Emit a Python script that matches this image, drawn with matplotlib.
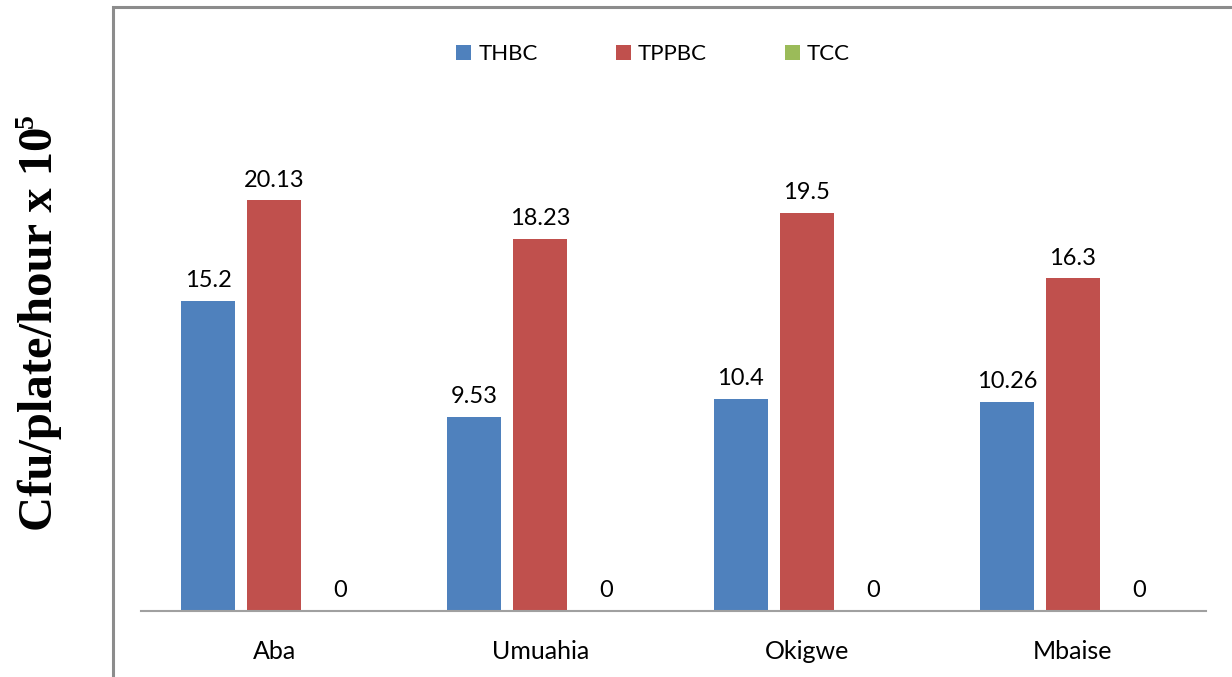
import matplotlib
matplotlib.use("Agg")
import matplotlib.pyplot as plt
import numpy as np
from matplotlib.patches import Rectangle, Patch

locations = ["Aba", "Umuahia", "Okigwe", "Mbaise"]
series_names = ["THBC", "TPPBC", "TCC"]
thbc = [15.2, 9.53, 10.4, 10.26]
tppbc = [20.13, 18.23, 19.5, 16.3]
tcc = [0, 0, 0, 0]
colors = ["#4F81BD", "#C0504D", "#9BBB59"]

W, H = 1232, 677
fig = plt.figure(figsize=(W / 100, H / 100), dpi=100)

ax = fig.add_axes([141 / W, 66 / H, (1206 - 141) / W, (611 - 101) / H])

x = np.arange(len(locations))
step = 0.248
width = 0.203
values = [thbc, tppbc, tcc]

for i, (name, vals, col) in enumerate(zip(series_names, values, colors)):
    pos = x + (i - 1) * step
    bars = ax.bar(pos, vals, width=width, color=col, label=name, zorder=2)
    for b, v in zip(bars, vals):
        ax.annotate(f"{v:g}", (b.get_x() + b.get_width() / 2, v),
                    xytext=(0, 7), textcoords="offset points",
                    ha="center", va="bottom", family="Lato", fontsize=17,
                    color="black")

ax.set_xlim(-0.5, len(locations) - 0.5)
ax.set_ylim(0, 25)
ax.set_xticks(x)
ax.set_xticklabels(locations, family="Lato", fontsize=18)
ax.tick_params(axis="x", length=0, pad=21)
ax.set_yticks([])
for s in ["top", "right", "left"]:
    ax.spines[s].set_visible(False)
ax.spines["bottom"].set_color("#A0A0A0")
ax.spines["bottom"].set_linewidth(1.5)

# outer chart border (runs off the right and bottom edges)
fig.patches.append(Rectangle((113 / W, -0.05), 1.2, (H - 6.5) / H + 0.05,
                             transform=fig.transFigure, fill=False,
                             edgecolor="#8C8C8C", linewidth=2.2, zorder=0))

handles = [Patch(facecolor=c, edgecolor="none") for c in colors]
fig.legend(handles, series_names, loc="center", bbox_to_anchor=(653 / W, 1 - 54 / H),
           ncol=3, frameon=False, handlelength=0.68, handleheight=0.68,
           handletextpad=0.32, columnspacing=3.5, borderpad=0,
           prop=dict(family="Lato", size=16))

# y-axis title, with a superscript exponent after it
ylab = fig.text(52 / W, 348 / H, "Cfu/plate/hour x 10", rotation=90,
                rotation_mode="anchor", ha="center", va="baseline",
                family="Liberation Serif", fontweight="bold", fontsize=35)
fig.canvas.draw()
bb = ylab.get_window_extent()
fig.text(33 / W, (bb.y1 - 1) / H, "5", rotation=90, rotation_mode="anchor",
         ha="left", va="baseline", family="Liberation Serif",
         fontweight="bold", fontsize=20)

fig.savefig("out.png", dpi=100)
